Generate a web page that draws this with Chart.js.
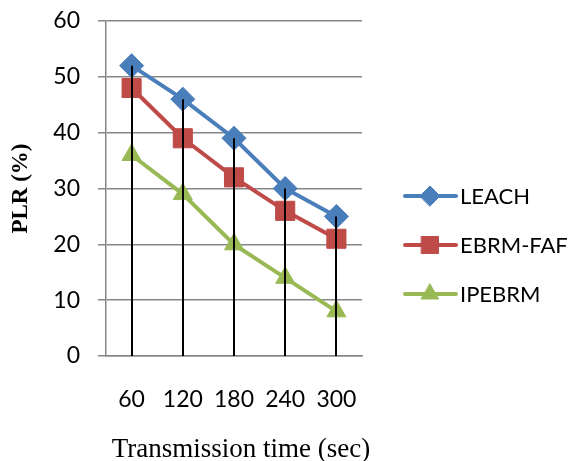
<!DOCTYPE html>
<html>
<head>
<meta charset="utf-8">
<script src="https://cdn.jsdelivr.net/npm/chart.js@4"></script>
<style>
html,body{margin:0;padding:0;background:#fff;}
#wrap{width:574px;height:461px;position:relative;}
</style>
</head>
<body>
<div id="wrap"><canvas id="c" width="574" height="461"></canvas></div>
<script>
const categories = ['60', '120', '180', '240', '300'];
const leach = [52, 46, 39, 30, 25];
const ebrmFaf = [48, 39, 32, 26, 21];
const ipebrm = [36, 29, 20, 14, 8];
const seriesNames = ['LEACH', 'EBRM-FAF', 'IPEBRM'];
const yTicks = [0, 10, 20, 30, 40, 50, 60];
const xTitle = 'Transmission time (sec)';
const yTitle = 'PLR (%)';

const tickFont = {family: 'Lato, "Open Sans", sans-serif', size: 23};

const dropLines = {
  id: 'dropLines',
  afterDatasetsDraw(chart) {
    const ctx = chart.ctx, xs = chart.scales.x, ys = chart.scales.y;
    ctx.save();
    ctx.strokeStyle = '#000';
    ctx.lineWidth = 2;
    categories.forEach((c, i) => {
      const top = Math.max(...chart.data.datasets.map(d => d.data[i]));
      const x = Math.round(xs.getPixelForValue(i));
      ctx.beginPath();
      ctx.moveTo(x, ys.getPixelForValue(top));
      ctx.lineTo(x, ys.getPixelForValue(0));
      ctx.stroke();
    });
    ctx.restore();
  }
};

const legendRadius = [10, 12, 10];
const sideLegend = {
  id: 'sideLegend',
  afterDraw(chart) {
    const ctx = chart.ctx;
    const ys = [196, 245, 294];
    ctx.save();
    chart.data.datasets.forEach((d, i) => {
      const y = ys[i];
      ctx.strokeStyle = d.borderColor;
      ctx.lineWidth = 4;
      ctx.lineCap = 'round';
      ctx.beginPath();
      ctx.moveTo(405, y);
      ctx.lineTo(456, y);
      ctx.stroke();
      ctx.fillStyle = d.backgroundColor;
      ctx.strokeStyle = d.backgroundColor;
      ctx.lineWidth = 1;
      Chart.helpers.drawPoint(ctx, {pointStyle: d.pointStyle, radius: legendRadius[i], borderWidth: 1}, 430, y);
      ctx.fillStyle = '#000';
      ctx.font = '22px Lato, "Open Sans", sans-serif';
      ctx.textBaseline = 'middle';
      ctx.textAlign = 'left';
      ctx.fillText(d.label, 460, y + 1);
    });
    // x axis title
    ctx.font = '27px "Liberation Serif", "Times New Roman", serif';
    ctx.textAlign = 'center';
    ctx.textBaseline = 'alphabetic';
    ctx.fillText(xTitle, 241, 457);
    ctx.restore();
  }
};

new Chart(document.getElementById('c'), {
  type: 'line',
  data: {
    labels: categories,
    datasets: [
      {label: seriesNames[0], data: leach, borderColor: '#4a7ebb', backgroundColor: '#4a7ebb', pointStyle: 'rectRot', pointRadius: 12, borderWidth: 4, pointBorderWidth: 1},
      {label: seriesNames[1], data: ebrmFaf, borderColor: '#be4b48', backgroundColor: '#be4b48', pointStyle: 'rect', pointRadius: 13.5, borderWidth: 4, pointBorderWidth: 1},
      {label: seriesNames[2], data: ipebrm, borderColor: '#98b954', backgroundColor: '#98b954', pointStyle: 'triangle', pointRadius: 11, borderWidth: 4, pointBorderWidth: 1}
    ]
  },
  options: {
    responsive: false,
    animation: false,
    layout: {padding: {left: 0, right: 212, top: 21, bottom: 0}},
    plugins: {legend: {display: false}, tooltip: {enabled: false}},
    scales: {
      x: {
        offset: true,
        grid: {display: false, drawTicks: false},
        border: {color: '#878787', width: 1.5},
        ticks: {font: tickFont, color: '#000', padding: 30, maxRotation: 0},
        afterFit(s) { s.height = 105; s.paddingLeft = 0; s.paddingRight = 0; }
      },
      y: {
        min: 0, max: 60,
        afterBuildTicks(s) { s.ticks = yTicks.map(v => ({value: v})); },
        grid: {color: '#878787', lineWidth: 1.5, tickLength: 8, drawOnChartArea: true},
        border: {color: '#878787', width: 1.5},
        ticks: {font: tickFont, color: '#000', padding: 18},
        title: {display: true, text: yTitle, font: {family: '"Liberation Serif", "Times New Roman", serif', size: 23, weight: 'bold'}, color: '#000', padding: {top: 7}},
        afterFit(s) { s.width = 106; s.paddingTop = 0; s.paddingBottom = 0; }
      }
    }
  },
  plugins: [dropLines, sideLegend]
});
</script>
</body>
</html>
